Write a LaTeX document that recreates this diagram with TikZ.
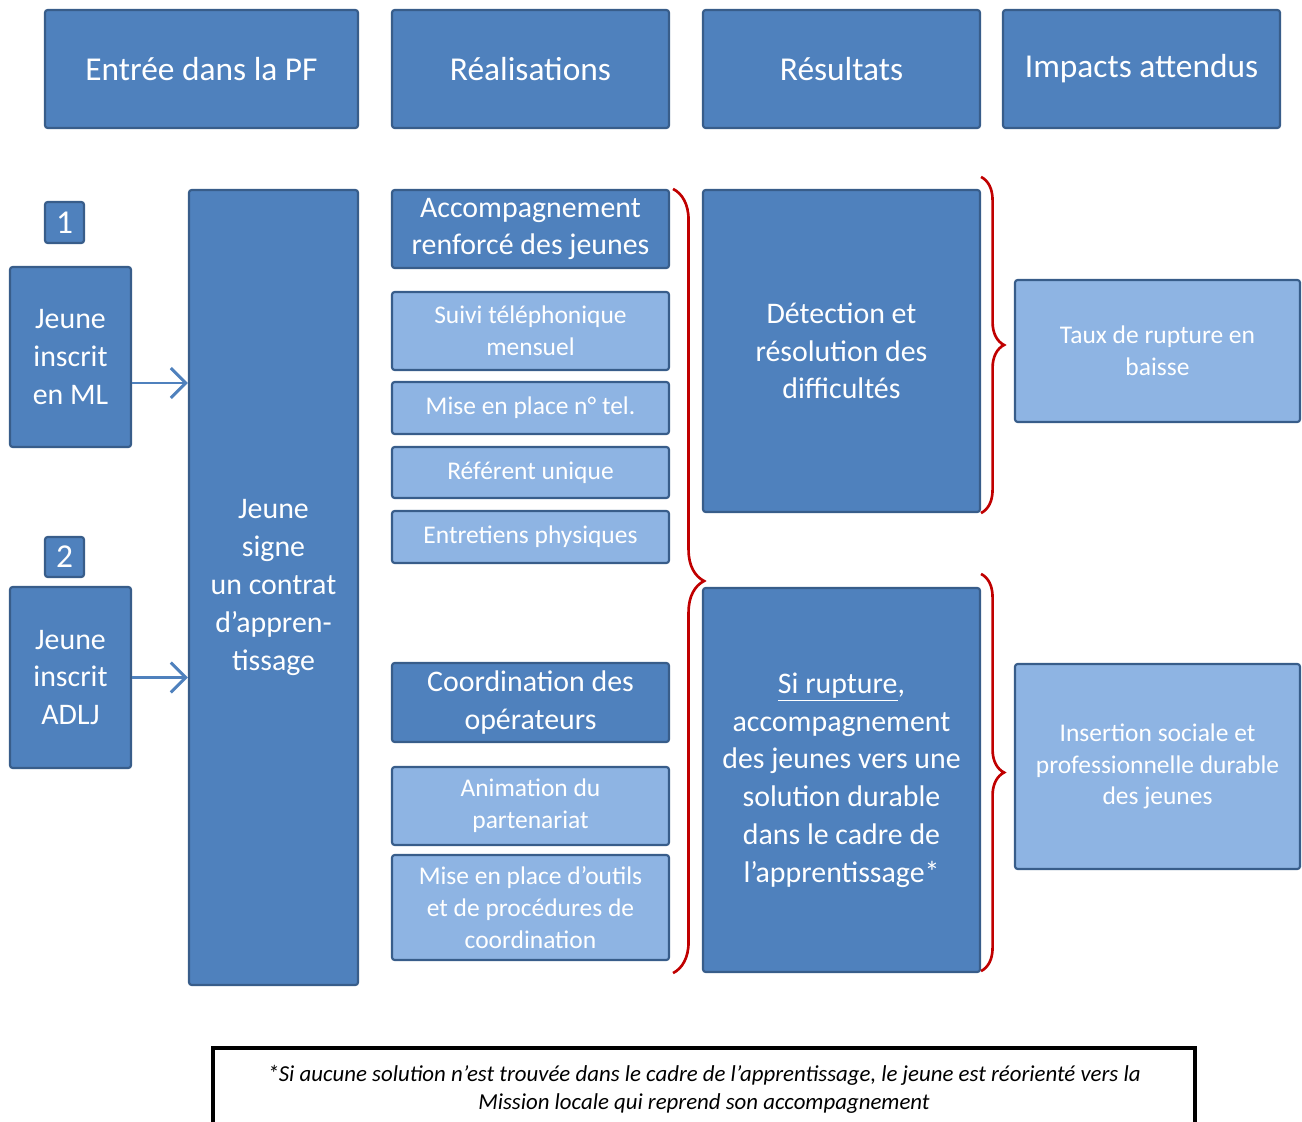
\documentclass[tikz,border=0pt]{standalone}
\usepackage{fontspec}
\setmainfont{Carlito}
\usetikzlibrary{arrows.meta,decorations.pathreplacing}
\definecolor{darkfill}{HTML}{4F81BD}
\definecolor{lightfill}{HTML}{8EB4E3}
\definecolor{edgeblue}{HTML}{385D8A}
\definecolor{bracered}{HTML}{C00000}

\begin{document}
\begin{tikzpicture}[
  every node/.style={draw=edgeblue, line width=1.2pt, rounded corners=1.5pt, text=white, align=center, inner sep=0pt},
  dark/.style={fill=darkfill, font=\fontsize{17}{21.5}\selectfont},
  light/.style={fill=lightfill, font=\fontsize{14.5}{18}\selectfont},
  header/.style={fill=darkfill, font=\fontsize{19}{23}\selectfont, minimum height=2.36cm},
  note/.style={draw=black, line width=2pt, rounded corners=0pt, fill=white, text=black, font=\fontsize{13}{16}\selectfont\itshape},
  arr/.style={draw=darkfill, line width=1.7pt, -{Straight Barb[length=3mm,width=6mm]}},
  curly/.style={draw=bracered, line width=1.5pt, decorate, decoration={brace, amplitude=#1}}
]
\useasboundingbox (0,0) rectangle (26.04,-22.44);

\node[header, minimum width=6.26cm] (hentree) at (4.03,-1.38) {Entrée dans la PF};
\node[header, minimum width=5.54cm] (hreal) at (10.61,-1.38) {Réalisations};
\node[header, minimum width=5.54cm] (hres) at (16.83,-1.38) {Résultats};
\node[header, minimum width=5.54cm] (himp) at (22.83,-1.38) {Impacts attendus};

\node[header, minimum width=0.78cm, minimum height=0.82cm] (num1) at (1.29,-4.45) {1};
\node[dark, minimum width=2.42cm, minimum height=3.6cm] (ml) at (1.41,-7.14) {Jeune\\inscrit\\en ML};
\node[header, minimum width=0.78cm, minimum height=0.8cm] (num2) at (1.29,-11.14) {2};
\node[dark, minimum width=2.42cm, minimum height=3.62cm] (adlj) at (1.41,-13.55) {Jeune\\inscrit\\ADLJ};
\node[dark, minimum width=3.38cm, minimum height=15.9cm] (contrat) at (5.47,-11.75) {Jeune\\signe\\un contrat\\d’appren-\\tissage};

\node[dark, minimum width=5.54cm, minimum height=1.56cm] (acc) at (10.61,-4.58) {Accompagnement\\renforcé des jeunes};
\node[light, minimum width=5.54cm, minimum height=1.56cm] (suivi) at (10.61,-6.62) {Suivi téléphonique\\mensuel};
\node[light, minimum width=5.54cm, minimum height=1.04cm] (tel) at (10.61,-8.16) {Mise en place n° tel.};
\node[light, minimum width=5.54cm, minimum height=1.02cm] (ref) at (10.61,-9.45) {Référent unique};
\node[light, minimum width=5.54cm, minimum height=1.04cm] (entr) at (10.61,-10.74) {Entretiens physiques};
\node[dark, minimum width=5.54cm, minimum height=1.58cm] (coord) at (10.61,-14.05) {Coordination des\\opérateurs};
\node[light, minimum width=5.54cm, minimum height=1.56cm] (anim) at (10.61,-16.12) {Animation du\\partenariat};
\node[light, minimum width=5.54cm, minimum height=2.1cm] (outils) at (10.61,-18.15) {Mise en place d’outils\\et de procédures de\\coordination};

\node[dark, minimum width=5.54cm, minimum height=6.44cm] (detect) at (16.83,-7.02) {Détection et\\résolution des\\difficultés};
\node[dark, minimum width=5.54cm, minimum height=7.68cm] (rupt) at (16.83,-15.6) {\underline{Si rupture},\\accompagnement\\des jeunes vers une\\solution durable\\dans le cadre de\\l’apprentissage*};

\node[light, minimum width=5.7cm, minimum height=2.84cm] (taux) at (23.15,-7.02) {Taux de rupture en\\baisse};
\node[light, minimum width=5.7cm, minimum height=4.1cm] (insert) at (23.15,-15.33) {Insertion sociale et\\professionnelle durable\\des jeunes};

\node[note, minimum width=19.64cm, minimum height=1.64cm] (renvoi) at (14.08,-21.78) {*Si aucune solution n’est trouvée dans le cadre de l’apprentissage, le jeune est réorienté vers la\\Mission locale qui reprend son accompagnement};

\draw[arr] ([yshift=-0.52cm]ml.east) -- ([yshift=-0.52cm]ml.east -| contrat.west);
\draw[arr] (adlj.east) -- (adlj.east -| contrat.west);

\draw[curly=0.62cm] ([xshift=0.06cm]acc.north east) -- ([xshift=0.06cm]acc.north east |- rupt.south);
\draw[curly=0.46cm] ([yshift=0.24cm]detect.north east) -- (detect.south east);
\draw[curly=0.46cm] ([yshift=0.26cm]rupt.north east) -- ([yshift=0.04cm]rupt.south east);
\end{tikzpicture}
\end{document}
